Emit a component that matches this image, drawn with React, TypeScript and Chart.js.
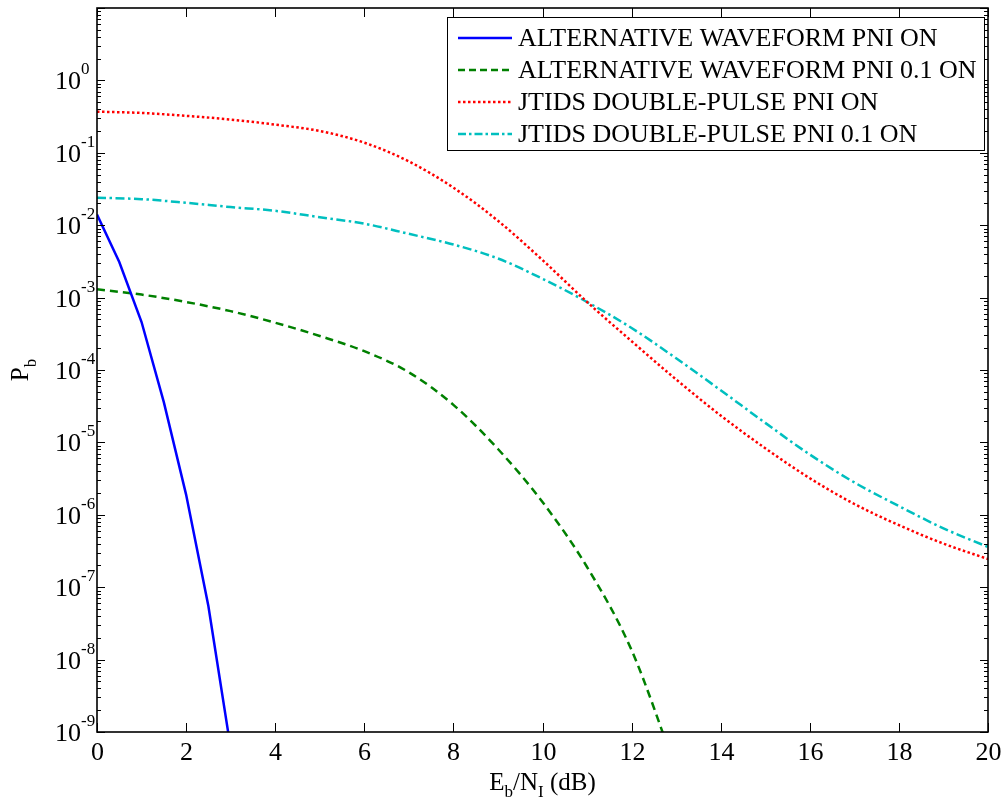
import React, { useEffect, useRef } from 'react';
import { Chart, registerables } from 'chart.js';

Chart.register(...registerables);

// ---- data ----
const xTickValues = [0, 2, 4, 6, 8, 10, 12, 14, 16, 18, 20];
const yDecades = [-9, -8, -7, -6, -5, -4, -3, -2, -1, 0, 1];
const yLabelDecades = [-9, -8, -7, -6, -5, -4, -3, -2, -1, 0];

const seriesLabels = [
  'ALTERNATIVE WAVEFORM PNI ON',
  'ALTERNATIVE WAVEFORM PNI 0.1 ON',
  'JTIDS DOUBLE-PULSE PNI ON',
  'JTIDS DOUBLE-PULSE PNI 0.1 ON',
];

const blueX = [0, 0.5, 1, 1.5, 2, 2.5, 3];
const blueY = [1.4e-2, 3.1e-3, 4.6e-4, 3.6e-5, 1.9e-6, 5.5e-8, 6e-10];

const greenX = [0, 1, 2, 3, 4, 5, 6, 7, 8, 9, 10, 11, 12, 13];
const greenY = [1.3e-3, 1.1e-3, 8.7e-4, 6.5e-4, 4.5e-4, 2.95e-4, 1.82e-4, 9.3e-5, 3.3e-5, 8.1e-6, 1.5e-6, 1.9e-7, 1.35e-8, 3e-10];

const redX = [0, 1, 2, 3, 4, 5, 6, 7, 8, 9, 10, 11, 12, 13, 14, 15, 16, 17, 18, 19, 20];
const redY = [0.37, 0.355, 0.324, 0.288, 0.245, 0.2, 0.138, 0.076, 0.033, 0.0115, 3.3e-3, 8.7e-4, 2.5e-4, 7.4e-5, 2.35e-5, 8.3e-6, 3.2e-6, 1.41e-6, 7.2e-7, 4.0e-7, 2.45e-7];

const cyanX = [0, 1, 2, 3, 4, 5, 6, 7, 8, 9, 10, 11, 12, 13, 14, 15, 16, 17, 18, 19, 20];
const cyanY = [0.024, 0.0229, 0.0204, 0.0178, 0.0158, 0.0129, 0.0105, 7.6e-3, 5.4e-3, 3.47e-3, 1.82e-3, 8.7e-4, 3.8e-4, 1.45e-4, 5.25e-5, 1.86e-5, 6.8e-6, 2.8e-6, 1.32e-6, 6.5e-7, 3.6e-7];

const seriesColors = ['#0000ff', '#008000', '#ff0000', '#00bfbf'];
const seriesDashes: number[][] = [[], [8, 5], [2.5, 2.5], [9, 3.5, 2.5, 3.5]];
const legendDashes: number[][] = [[], [7, 4], [2.5, 2.5], [8, 3, 2.5, 3]];

const FONT = '"Liberation Serif", "Times New Roman", serif';

function toPoints(xs: number[], ys: number[]) {
  return xs.map((x, i) => ({ x, y: ys[i] }));
}

const framePlugin = {
  id: 'framePlugin',
  afterDraw(chart: any) {
    const { ctx, chartArea: a } = chart;
    const xs = chart.scales.x;
    const ys = chart.scales.y;
    ctx.save();
    ctx.strokeStyle = '#000';
    ctx.fillStyle = '#000';
    ctx.setLineDash([]);

    // frame
    ctx.lineWidth = 1.6;
    ctx.strokeRect(a.left, a.top, a.right - a.left, a.bottom - a.top);

    // x ticks
    ctx.lineWidth = 1;
    ctx.font = `26px ${FONT}`;
    ctx.textAlign = 'center';
    ctx.textBaseline = 'alphabetic';
    for (const v of xTickValues) {
      const px = Math.round(xs.getPixelForValue(v)) + 0.5;
      ctx.beginPath();
      ctx.moveTo(px, a.bottom);
      ctx.lineTo(px, a.bottom - 9);
      ctx.moveTo(px, a.top);
      ctx.lineTo(px, a.top + 9);
      ctx.stroke();
      ctx.fillText(String(v), px, 760);
    }

    // y ticks
    for (const e of yDecades) {
      const major = Math.pow(10, e);
      const py = Math.round(ys.getPixelForValue(major)) + 0.5;
      ctx.beginPath();
      ctx.moveTo(a.left, py);
      ctx.lineTo(a.left + 8, py);
      ctx.moveTo(a.right, py);
      ctx.lineTo(a.right - 8, py);
      ctx.stroke();
      if (e < 1) {
        for (let k = 2; k <= 9; k++) {
          const mp = Math.round(ys.getPixelForValue(k * major)) + 0.5;
          ctx.beginPath();
          ctx.moveTo(a.left, mp);
          ctx.lineTo(a.left + 4, mp);
          ctx.moveTo(a.right, mp);
          ctx.lineTo(a.right - 4, mp);
          ctx.stroke();
        }
      }
    }
    for (const e of yLabelDecades) {
      const py = ys.getPixelForValue(Math.pow(10, e));
      ctx.font = `26px ${FONT}`;
      ctx.textAlign = 'right';
      ctx.fillText('10', 81, py + 9);
      ctx.font = `17px ${FONT}`;
      ctx.textAlign = 'left';
      ctx.fillText(String(e), 81, py - 6);
    }

    // x title: E_b/N_I (dB)
    const big = `25px ${FONT}`;
    const small = `17px ${FONT}`;
    const parts: [string, boolean][] = [['E', false], ['b', true], ['/N', false], ['I', true], [' (dB)', false]];
    let total = 0;
    for (const [t, sub] of parts) {
      ctx.font = sub ? small : big;
      total += ctx.measureText(t).width;
    }
    let cx = (a.left + a.right) / 2 - total / 2;
    ctx.textAlign = 'left';
    for (const [t, sub] of parts) {
      ctx.font = sub ? small : big;
      ctx.fillText(t, cx, sub ? 797 : 790);
      cx += ctx.measureText(t).width;
    }

    // y title: P_b
    ctx.save();
    ctx.translate(28, (a.top + a.bottom) / 2);
    ctx.rotate(-Math.PI / 2);
    ctx.font = big;
    const pw = ctx.measureText('P').width;
    ctx.font = small;
    const bw = ctx.measureText('b').width;
    const start = -(pw + bw) / 2;
    ctx.font = big;
    ctx.fillText('P', start, 0);
    ctx.font = small;
    ctx.fillText('b', start + pw, 8);
    ctx.restore();

    // legend
    const lx0 = 447, lx1 = 984, ly0 = 17, ly1 = 150;
    ctx.fillStyle = '#fff';
    ctx.fillRect(lx0, ly0, lx1 - lx0, ly1 - ly0);
    ctx.strokeStyle = '#000';
    ctx.lineWidth = 1;
    ctx.strokeRect(lx0 + 0.5, ly0 + 0.5, lx1 - lx0, ly1 - ly0);
    const rows = [38, 70, 102, 134];
    chart.data.datasets.forEach((ds: any, i: number) => {
      const ry = rows[i];
      ctx.save();
      ctx.strokeStyle = seriesColors[i];
      ctx.lineWidth = 2.5;
      ctx.setLineDash(legendDashes[i]);
      ctx.beginPath();
      ctx.moveTo(458, ry);
      ctx.lineTo(512, ry);
      ctx.stroke();
      ctx.restore();
      ctx.fillStyle = '#000';
      ctx.font = `26px ${FONT}`;
      ctx.textAlign = 'left';
      ctx.textBaseline = 'middle';
      ctx.fillText(ds.label, 518, ry + 1);
    });
    ctx.restore();
  },
};

export default function App() {
  const ref = useRef<HTMLCanvasElement>(null);
  useEffect(() => {
    const canvas = ref.current;
    if (!canvas) return;
    const xsArr = [blueX, greenX, redX, cyanX];
    const ysArr = [blueY, greenY, redY, cyanY];
    const chart = new Chart(canvas, {
      type: 'line',
      data: {
        datasets: seriesLabels.map((label, i) => ({
          label,
          data: toPoints(xsArr[i], ysArr[i]),
          borderColor: seriesColors[i],
          backgroundColor: seriesColors[i],
          borderWidth: 2.5,
          borderDash: seriesDashes[i],
          pointRadius: 0,
          fill: false,
          tension: 0,
          cubicInterpolationMode: i === 0 ? 'default' : 'monotone',
        })) as any,
      },
      options: {
        responsive: false,
        maintainAspectRatio: false,
        devicePixelRatio: 1,
        animation: false,
        layout: { padding: { left: 97, right: 18, top: 8, bottom: 74 } },
        scales: {
          x: { type: 'linear', min: 0, max: 20, display: false },
          y: { type: 'logarithmic', min: 1e-9, max: 10, display: false },
        },
        plugins: {
          legend: { display: false },
          tooltip: { enabled: false },
        },
      },
      plugins: [framePlugin],
    });
    return () => chart.destroy();
  }, []);
  return (
    <div style={{ position: 'fixed', left: 0, top: 0, width: 1006, height: 806, background: '#fff' }}>
      <canvas ref={ref} width={1006} height={806} style={{ display: 'block', width: 1006, height: 806 }} />
    </div>
  );
}
